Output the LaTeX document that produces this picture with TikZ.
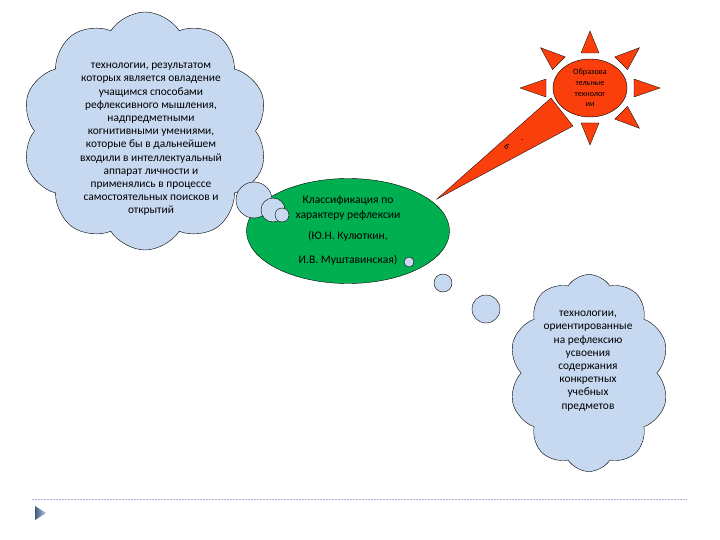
\documentclass[tikz,border=0pt]{standalone}
\usepackage{fontspec}
\setmainfont{Carlito}
\usetikzlibrary{shapes.symbols, shapes.geometric, calc}
\definecolor{wolkenblau}{RGB}{198,217,241}
\definecolor{klassgruen}{RGB}{0,176,80}
\definecolor{sonnenrot}{RGB}{250,62,12}
\definecolor{linienblau}{RGB}{165,180,200}
\definecolor{markerblau}{RGB}{110,150,205}

\begin{document}
\begin{tikzpicture}[x=1pt, y=-1pt, font=\fontsize{11.4}{13.2}\selectfont,
		wolke/.style={cloud, draw=black, fill=wolkenblau, cloud puffs=10, cloud puff arc=115, inner sep=0pt},
		blase/.style={circle, draw=black, fill=wolkenblau, inner sep=0pt},
		strahl/.style={draw=black, fill=sonnenrot, line width=0.3pt},
		wolkentext/.style={align=center, inner sep=0pt}]
				%Bildbereich
				\useasboundingbox (0,0) rectangle (720,540);
				%Wolken zeichnen
				\node[wolke, minimum width=246, minimum height=238] (wolkeA) at (145,131) {};
				\node[wolke, minimum width=160, minimum height=197] (wolkeB) at (589,373) {};
				%Klassifikation
				\node[ellipse, draw=black, fill=klassgruen, minimum width=203, minimum height=105, inner sep=0pt, align=center,
					font=\fontsize{11.6}{15}\selectfont] (klass) at (348,231)
					{Классификация по\\характеру рефлексии\\[6pt](Ю.Н. Кулюткин,\\[9pt]И.В. Муштавинская)};
				%Blasen
				\node[blase, minimum size=36] (blaseA) at (254,200) {};
				\node[blase, minimum size=24] (blaseB) at (273,210) {};
				\node[blase, minimum size=14] (blaseC) at (282,215) {};
				\node[blase, minimum size=10] (blaseD) at (409,262) {};
				\node[blase, minimum size=18] (blaseE) at (443,283) {};
				\node[blase, minimum size=28] (blaseF) at (486,309) {};
				%Sonne mit Strahlen
				\coordinate (spitze) at (437,199);
				\coordinate (mitte) at (590,88);
				\draw[strahl] ($(mitte)+(-39,10)$) -- (spitze) -- ($(mitte)+(-17,38)$) -- cycle;
				\begin{scope}[shift={(mitte)}]
					\foreach \a in {0,45,90,180,225,270,315}
						\draw[strahl] ({44*cos(\a)-9*sin(\a)},{35*sin(\a)+9*cos(\a)}) -- ({70*cos(\a)},{57*sin(\a)})
							-- ({44*cos(\a)+9*sin(\a)},{35*sin(\a)-9*cos(\a)}) -- cycle;
				\end{scope}
				\node[ellipse, draw=black, fill=sonnenrot, minimum width=74, minimum height=58, inner sep=0pt, align=center,
					font=\fontsize{8.2}{10.7}\selectfont] (sonne) at (mitte)
					{Образова\\тельные\\технолог\\ии};
				\node[font=\fontsize{9}{9}\selectfont, rotate=145] (neun) at (507,147) {9};
				\node[font=\fontsize{9}{9}\selectfont] (punkt) at (522,140) {.};
				%Beschriftung
				\node[wolkentext] (textA) at (151,139.5) {технологии, результатом\\которых является овладение\\учащимся способами\\рефлексивного мышления,\\надпредметными\\когнитивными умениями,\\которые бы в дальнейшем\\входили в интеллектуальный\\аппарат личности и\\применялись в процессе\\самостоятельных поисков и\\открытий};
				\node[wolkentext] (textB) at (588,361) {технологии,\\ориентированные\\на рефлексию\\усвоения\\содержания\\конкретных\\учебных\\предметов};
				%Fusszeile
				\draw[linienblau, dash pattern=on 2pt off 1pt] (32,499) -- (687,499);
				\shade[left color=markerblau!60!black, right color=markerblau!50] (35,506) -- (46,513) -- (35,520) -- cycle;
			\end{tikzpicture}
\end{document}
